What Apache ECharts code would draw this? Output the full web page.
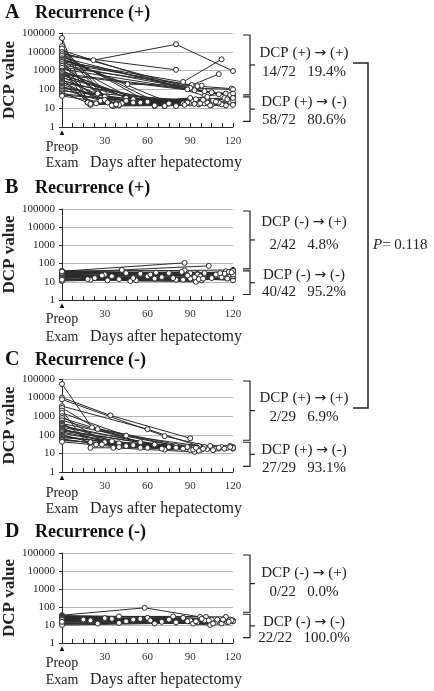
<!DOCTYPE html>
<html>
<head>
<meta charset="utf-8" />
<title>DCP value after hepatectomy</title>
<script src="https://cdn.jsdelivr.net/npm/echarts@6/dist/echarts.min.js"></script>
</head>
<body>
<div id="main" style="width:434px;height:691px;"></div>
<style>
body{margin:0;padding:0;background:#fff;}
</style>
<script type="text/javascript">
// each patient: [day, DCP value] pairs, day 0 = preop exam
var panelA = [
  [[0,8000],[22,3600],[80,25000],[120,950]],
  [[0,6500],[80,1100]],
  [[0,3000],[85,250],[112,4000]],
  [[0,2500],[91,170],[110,650]],
  [[0,4000],[46,190],[98,160]],
  [[0,1500],[95,150],[119,110]],
  [[0,9000],[90,120],[120,100]],
  [[0,5000],[88,100],[115,60]],
  [[0,2000],[100,80],[120,55]],
  [[0,1200],[93,90]],
  [[0,700],[105,70],[120,45]],
  [[0,3500],[110,55]],
  [[0,600],[118,50]],
  [[0,12000],[100,45],[120,60]],
  [[0,54000],[18,20]],
  [[0,20000],[35,15],[90,18]],
  [[0,15000],[40,14]],
  [[0,9500],[30,40],[95,20]],
  [[0,7500],[65,14],[110,18]],
  [[0,6000],[72,13]],
  [[0,4500],[80,14],[120,20]],
  [[0,3800],[20,16],[90,22]],
  [[0,3200],[50,30],[100,18]],
  [[0,2800],[36,13],[105,15]],
  [[0,2200],[25,60],[92,25]],
  [[0,1800],[38,15],[115,14]],
  [[0,1400],[18,20],[96,16]],
  [[0,1000],[45,35],[108,25]],
  [[0,900],[65,13],[120,18]],
  [[0,800],[27,25],[102,20]],
  [[0,650],[55,20],[112,16]],
  [[0,550],[72,13],[118,22]],
  [[0,480],[30,28],[94,30]],
  [[0,420],[80,13],[106,25]],
  [[0,380],[20,15],[100,30]],
  [[0,330],[42,18],[90,35]],
  [[0,290],[60,22],[114,35]],
  [[0,250],[35,14],[97,18]],
  [[0,220],[85,18],[120,25]],
  [[0,190],[40,15],[104,14]],
  [[0,160],[24,18],[88,20]],
  [[0,140],[50,20],[116,30]],
  [[0,120],[65,14],[110,20]],
  [[0,100],[32,20],[99,28]],
  [[0,85],[75,18],[120,35]],
  [[0,70],[20,17],[93,17]],
  [[0,60],[45,25],[108,22]],
  [[0,50],[86,15],[120,15]],
  [[0,45],[38,16],[102,40]]
];
var panelB = [
  [[0,38],[86,110]],
  [[0,32],[42,45],[103,75]],
  [[0,40],[86,42],[120,45]],
  [[0,36],[30,25],[95,28]],
  [[0,34],[20,13],[94,10]],
  [[0,30],[48,11],[98,12]],
  [[0,28],[52,12],[120,14]],
  [[0,26],[60,20],[110,22]],
  [[0,24],[80,13],[115,38]],
  [[0,22],[85,13],[120,30]],
  [[0,20],[23,16],[92,17]],
  [[0,18],[35,20],[100,25]],
  [[0,16],[70,18],[118,20]],
  [[0,14],[90,15],[120,12]],
  [[0,12],[40,14],[105,16]],
  [[0,11],[65,15],[112,18]],
  [[0,35],[95,25],[120,40]],
  [[0,33],[75,30],[117,35]],
  [[0,29],[55,28],[97,20]],
  [[0,27],[28,22],[90,30]],
  [[0,25],[45,30],[108,25]],
  [[0,23],[18,14],[96,14]],
  [[0,21],[62,25],[114,28]],
  [[0,19],[88,22],[120,20]],
  [[0,17],[50,16],[99,15]],
  [[0,15],[32,12],[93,18]],
  [[0,13],[78,16],[116,15]],
  [[0,38],[100,30],[120,25]],
  [[0,31],[84,35],[111,30]],
  [[0,37],[66,32],[119,33]]
];
var panelC = [
  [[0,54000],[21,250],[92,20]],
  [[0,10000],[34,1100],[90,65]],
  [[0,8000],[72,85],[105,22]],
  [[0,3500],[60,200],[96,25]],
  [[0,2800],[25,200],[90,18]],
  [[0,2000],[20,20],[100,20]],
  [[0,1500],[45,90],[110,18]],
  [[0,1000],[36,20],[93,12]],
  [[0,800],[72,16],[115,20]],
  [[0,600],[55,40],[102,17]],
  [[0,450],[24,30],[95,20]],
  [[0,400],[80,25],[120,22]],
  [[0,350],[40,35],[108,18]],
  [[0,300],[65,30],[118,25]],
  [[0,250],[90,15],[112,22]],
  [[0,220],[30,40],[98,16]],
  [[0,200],[50,28],[120,18]],
  [[0,180],[75,22],[104,25]],
  [[0,160],[85,18],[116,20]],
  [[0,140],[35,45],[96,14]],
  [[0,120],[60,20],[110,20]],
  [[0,100],[20,40],[92,16]],
  [[0,90],[45,25],[100,22]],
  [[0,80],[70,18],[120,20]],
  [[0,70],[88,22],[114,18]],
  [[0,60],[28,30],[94,20]],
  [[0,55],[55,20],[106,15]],
  [[0,50],[80,20],[118,22]],
  [[0,42],[40,22],[99,18]]
];
var panelD = [
  [[0,35],[58,90],[97,28]],
  [[0,32],[40,30],[101,28]],
  [[0,30],[78,30],[115,28]],
  [[0,28],[20,18],[105,20]],
  [[0,26],[60,25],[120,18]],
  [[0,24],[35,22],[110,15]],
  [[0,22],[90,18],[118,20]],
  [[0,20],[50,20],[104,10]],
  [[0,18],[70,15],[112,12]],
  [[0,16],[92,12],[120,16]],
  [[0,14],[45,16],[100,18]],
  [[0,12],[80,14],[108,15]],
  [[0,11],[25,12],[95,14]],
  [[0,10],[65,12],[116,14]],
  [[0,33],[85,25],[119,18]],
  [[0,29],[30,24],[98,22]],
  [[0,27],[55,22],[113,20]],
  [[0,25],[75,20],[103,18]],
  [[0,23],[15,20],[94,16]],
  [[0,21],[88,16],[117,15]],
  [[0,19],[62,18],[109,20]],
  [[0,15],[40,13],[106,12]]
];

var panelLetters = ['A', 'B', 'C', 'D'];
var panelTitles = ['Recurrence (+)', 'Recurrence (+)', 'Recurrence (-)', 'Recurrence (-)'];
var groupLabels = [
  ['DCP (+) \u2192 (+)', '14/72   19.4%', 'DCP (+) \u2192 (-)', '58/72   80.6%'],
  ['DCP (-) \u2192 (+)', '2/42   4.8%', 'DCP (-) \u2192 (-)', '40/42   95.2%'],
  ['DCP (+) \u2192 (+)', '2/29   6.9%', 'DCP (+) \u2192 (-)', '27/29   93.1%'],
  ['DCP (-) \u2192 (+)', '0/22   0.0%', 'DCP (-) \u2192 (-)', '22/22   100.0%']
];
var dayTicks = [30, 60, 90, 120];
var cutoff = 45;      // split between (+) and (-) braces
var braceBottom = 2;
var pValue = '0.118';

var allPanels = [panelA, panelB, panelC, panelD];
// layout (pixels)
var gridTops = [33, 209, 379, 553];
var gridHeights = [94, 91, 93, 90];
var titleY = [13, 188, 360, 532];
var labelY = [[53, 72, 102, 120], [222, 245, 275, 292], [398, 417, 450, 468], [573, 592, 622, 638]];
var tickLabelY = [141, 313, 487, 657];
var examY = [163, 337, 509, 680];

var serif = '"Liberation Serif", "DejaVu Serif", serif';
var ink = '#2a2a2a';

var mychart = echarts.init(document.getElementById('main'));

var grids = [], xAxes = [], yAxes = [], series = [];
allPanels.forEach(function (pts, i) {
  grids.push({ left: 62, width: 171, top: gridTops[i], height: gridHeights[i] });
  xAxes.push({
    type: 'value', gridIndex: i, min: 0, max: 120, interval: 30,
    axisLine: { lineStyle: { color: ink, width: 1 } },
    axisTick: { show: true, inside: true, length: 4, lineStyle: { color: ink } },
    minorTick: { show: true, splitNumber: 4, length: 4, lineStyle: { color: ink } },
    splitLine: { show: false },
    axisLabel: {
      margin: 9, fontFamily: serif, fontSize: 11, color: '#333',
      formatter: function (v) { return dayTicks.indexOf(v) >= 0 ? String(v) : ''; }
    }
  });
  yAxes.push({
    type: 'log', logBase: 10, gridIndex: i, min: 1, max: 100000,
    name: 'DCP value', nameLocation: 'middle', nameGap: 41,
    nameTextStyle: { fontFamily: serif, fontSize: 17, fontWeight: 'bold', color: '#222' },
    axisLine: { show: true, lineStyle: { color: ink, width: 1 } },
    axisTick: { show: true, length: 3, lineStyle: { color: ink } },
    splitLine: { show: true, lineStyle: { color: '#b8b8b8', width: 1 } },
    axisLabel: {
      margin: 7, fontFamily: serif, fontSize: 11, color: '#222',
      formatter: function (v) { return String(Math.round(v)); }
    }
  });
  pts.forEach(function (traj) {
    series.push({
      type: 'line', xAxisIndex: i, yAxisIndex: i, data: traj,
      symbol: 'circle', symbolSize: 5, showAllSymbol: true,
      lineStyle: { color: ink, width: 1 },
      itemStyle: { color: '#fff', borderColor: ink, borderWidth: 1 },
      silent: true, animation: false
    });
  });
});

mychart.setOption({
  animation: false,
  grid: grids,
  xAxis: xAxes,
  yAxis: yAxes,
  series: series
});

// annotations: titles, x labels, braces, group texts
var graphics = [];
allPanels.forEach(function (pts, i) {
  var bottom = gridTops[i] + gridHeights[i];
  graphics.push({ type: 'text', x: 5, y: titleY[i], style: { text: panelLetters[i], font: 'bold 20px ' + serif, fill: '#111', textVerticalAlign: 'middle' } });
  graphics.push({ type: 'text', x: 35, y: titleY[i], style: { text: panelTitles[i], font: 'bold 18px ' + serif, fill: '#111', textVerticalAlign: 'middle' } });
  graphics.push({ type: 'text', x: 62, y: bottom + 6, style: { text: '\u25B2', font: '8px sans-serif', fill: '#111', textAlign: 'center', textVerticalAlign: 'middle' } });
  graphics.push({ type: 'text', x: 62, y: tickLabelY[i] + 6, style: { text: 'Preop', font: '14px ' + serif, fill: '#222', textAlign: 'center', textVerticalAlign: 'middle' } });
  graphics.push({ type: 'text', x: 62, y: examY[i], style: { text: 'Exam', font: '14px ' + serif, fill: '#222', textAlign: 'center', textVerticalAlign: 'middle' } });
  graphics.push({ type: 'text', x: 90, y: examY[i], style: { text: 'Days after hepatectomy', font: '16px ' + serif, fill: '#222', textVerticalAlign: 'middle' } });

  var yTop = mychart.convertToPixel({ yAxisIndex: i }, 100000) + 2;
  var yCut = mychart.convertToPixel({ yAxisIndex: i }, cutoff);
  var yLow = mychart.convertToPixel({ yAxisIndex: i }, braceBottom);
  [[yTop, yCut - 1], [yCut + 1, yLow]].forEach(function (b) {
    var mid = (b[0] + b[1]) / 2;
    graphics.push({ type: 'polyline', shape: { points: [[243, b[0]], [250, b[0]], [250, b[1]], [243, b[1]]] }, style: { stroke: '#222', lineWidth: 1.2, fill: null } });
    graphics.push({ type: 'line', shape: { x1: 250, y1: mid, x2: 255, y2: mid }, style: { stroke: '#222', lineWidth: 1.2 } });
  });
  groupLabels[i].forEach(function (t, k) {
    graphics.push({
      type: 'text', x: 304, y: labelY[i][k],
      style: {
        text: t.replace('\u2192', '{a|\u2192}'), font: '15px ' + serif, fill: '#222',
        textAlign: 'center', textVerticalAlign: 'middle',
        rich: { a: { font: '14px "DejaVu Sans", sans-serif', fill: '#222' } }
      }
    });
  });
});
// comparison bracket between A and C (+ -> +)
graphics.push({ type: 'polyline', shape: { points: [[353, 63], [368, 63], [368, 408], [353, 408]] }, style: { stroke: '#222', lineWidth: 1.5, fill: null } });
graphics.push({
  type: 'text', x: 373, y: 245,
  style: {
    text: '{i|P}{n|= ' + pValue + '}', textVerticalAlign: 'middle',
    rich: {
      i: { font: 'italic 15px ' + serif, fill: '#222' },
      n: { font: '15px ' + serif, fill: '#222' }
    }
  }
});

mychart.setOption({ graphic: graphics });
</script>
</body>
</html>
